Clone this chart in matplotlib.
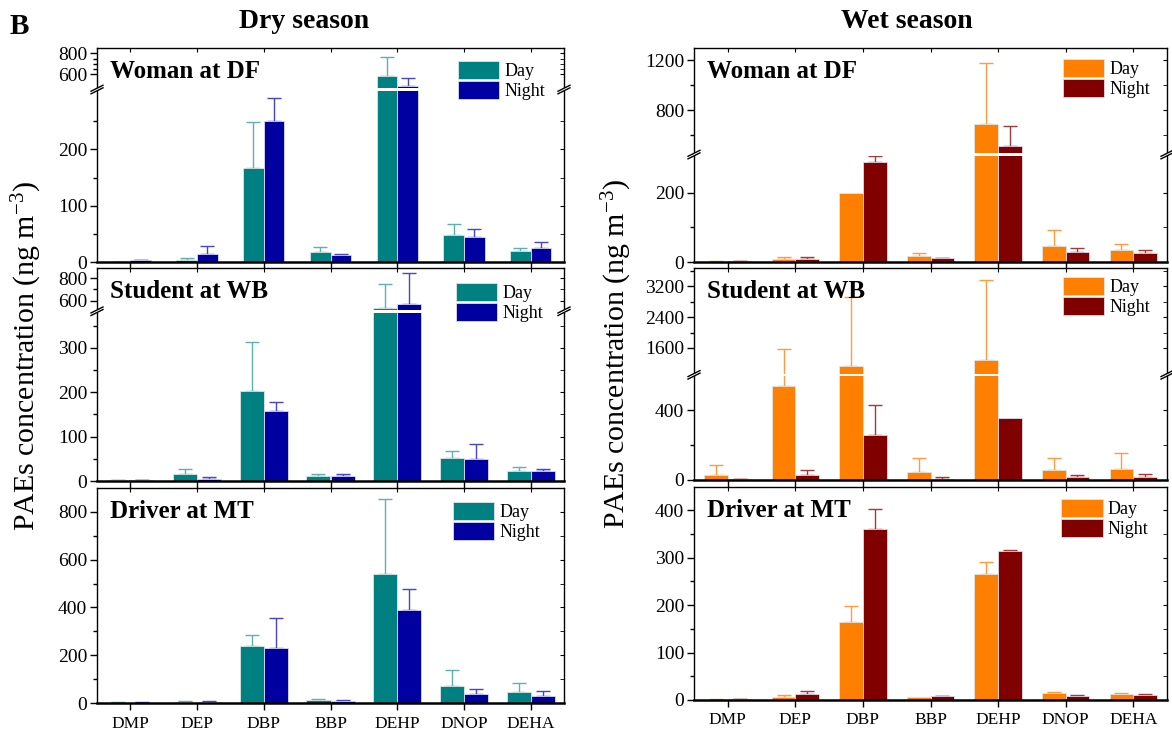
import numpy as np
import matplotlib
matplotlib.use("Agg")
from matplotlib import pyplot as plt
from matplotlib.patches import Rectangle, Patch
from matplotlib.lines import Line2D
from matplotlib.ticker import FixedLocator

plt.rcParams['font.family'] = ['Liberation Serif', 'DejaVu Serif']
plt.rcParams['mathtext.fontset'] = 'custom'
plt.rcParams['mathtext.rm'] = 'Liberation Serif'
plt.rcParams['mathtext.it'] = 'Liberation Serif:italic'

compounds = ["DMP", "DEP", "DBP", "BBP", "DEHP", "DNOP", "DEHA"]

# dry season: mean and (upper) error, ng m-3
dry_df_day = [0.5, 4, 167, 18, 590, 48, 19]
dry_df_day_sd = [0.3, 3, 81, 9, 172, 20, 6]
dry_df_night = [3, 15, 250, 12, 495, 44, 25]
dry_df_night_sd = [1, 13, 42, 3, 75, 14, 10]

dry_wb_day = [2, 15, 202, 11, 542, 53, 23]
dry_wb_day_sd = [0.5, 11, 111, 5, 203, 15, 8]
dry_wb_night = [2, 4.5, 158, 11, 574, 49, 22]
dry_wb_night_sd = [0.5, 3.5, 21, 4, 272, 34, 6]

dry_mt_day = [2, 4, 239, 13, 538, 71, 46]
dry_mt_day_sd = [0.5, 3, 44, 5, 318, 66, 39]
dry_mt_night = [2, 5, 232, 10, 391, 39, 29]
dry_mt_night_sd = [0.5, 3, 125, 4, 88, 21, 20]

# wet season
wet_df_day = [1, 8, 198, 17, 693, 45, 34]
wet_df_day_sd = [0.5, 6, 0, 9, 488, 48, 19]
wet_df_night = [2, 10, 288, 11.5, 517, 29, 27]
wet_df_night_sd = [1, 4, 38, 1, 155, 10, 9]

wet_wb_day = [30, 539, 1140, 48, 1296, 57, 63]
wet_wb_day_sd = [58, 1043, 1797, 76, 2060, 67, 93]
wet_wb_night = [4, 27, 257, 8, 352, 15, 19]
wet_wb_night_sd = [4, 32, 173, 9, 0, 15, 13]

wet_mt_day = [1, 5.6, 165, 6.3, 265, 14.8, 13.4]
wet_mt_day_sd = [0.3, 5, 34, 0, 26, 3, 0.6]
wet_mt_night = [1.5, 12.7, 361, 7.7, 314, 9, 10.5]
wet_mt_night_sd = [0.3, 6, 41, 0.5, 3, 1, 1.5]

W, H = 1172, 733
fig = plt.figure(figsize=(W / 100, H / 100), dpi=100)

GAP = 0.012


def broken_scale(lo_max, hi_min, top, frac):
    xp = np.array([0.0, lo_max, hi_min, top])
    fp = np.array([0.0, frac, frac + GAP, 1.0])
    s_hi = (1 - frac - GAP) / (top - hi_min)

    def fwd(v):
        v = np.asarray(v, float)
        out = np.interp(v, xp, fp)
        out = np.where(v < 0, v / lo_max * frac, out)
        return np.where(v > top, 1 + (v - top) * s_hi, out)

    def inv(u):
        u = np.asarray(u, float)
        out = np.interp(u, fp, xp)
        out = np.where(u < 0, u * lo_max / frac, out)
        return np.where(u > 1, top + (u - 1) / s_hi, out)
    return fwd, inv


def draw_err(ax, xpos, vals, sd, color):
    xpos, vals, sd = np.asarray(xpos), np.asarray(vals, float), np.asarray(sd, float)
    keep = sd > 0
    ax.errorbar(xpos[keep], vals[keep], yerr=[np.zeros(keep.sum()), sd[keep]], fmt='none',
                ecolor=color, elinewidth=1, capsize=5, capthick=1, zorder=1.9)


def panel(box, day, day_sd, night, night_sd, cols, ecols, width, top,
          major, minor, title, brk=None, show_x=False, leg_anchor=(0.775, 0.94)):
    l, t, r, b = box
    ax = fig.add_axes([l / W, 1 - b / H, (r - l) / W, (b - t) / H])
    x = np.arange(len(compounds))
    ax.bar(x - width / 2, day, width, color=cols[0], edgecolor='#dfe6e6', linewidth=0.6, zorder=2)
    ax.bar(x + width / 2, night, width, color=cols[1], edgecolor='#dcdcee', linewidth=0.6, zorder=2)
    draw_err(ax, x - width / 2, day, day_sd, ecols[0])
    draw_err(ax, x + width / 2, night, night_sd, ecols[1])
    ax.set_xlim(-0.5, len(x) - 0.5)
    if brk is not None:
        fwd, inv = broken_scale(*brk)
        ax.set_yscale('function', functions=(fwd, inv))
    ax.set_ylim(0, top)
    ax.yaxis.set_major_locator(FixedLocator(major))
    ax.yaxis.set_minor_locator(FixedLocator(minor))
    ax.set_yticklabels([str(m) for m in major])
    ax.tick_params(axis='y', which='major', direction='out', length=5, width=1, labelsize=14, pad=2)
    ax.tick_params(axis='y', which='minor', direction='out', length=3, width=1)
    ax.set_xticks(x)
    ax.tick_params(axis='x', direction='out', length=5, width=1, labelsize=12.5, pad=4)
    if show_x:
        ax.set_xticklabels(compounds)
    else:
        ax.set_xticklabels([])
    for s in ['left', 'right', 'top']:
        ax.spines[s].set_linewidth(1.0)
    ax.spines['bottom'].set_linewidth(1.8)

    # right and top inner ticks
    tw = ax.twinx()
    if brk is not None:
        tw.set_yscale('function', functions=(fwd, inv))
    tw.set_ylim(0, top)
    tw.yaxis.set_major_locator(FixedLocator(major))
    tw.yaxis.set_minor_locator(FixedLocator(minor))
    tw.tick_params(axis='y', which='both', direction='in', length=3, labelright=False)
    ty = ax.twiny()
    ty.set_xlim(ax.get_xlim())
    ty.set_xticks(x)
    ty.tick_params(axis='x', direction='in', length=3, labeltop=False)
    for a in (tw, ty):
        for s in a.spines.values():
            s.set_visible(False)

    if brk is not None:
        frac = brk[3]
        ax.add_patch(Rectangle((-0.03, frac), 1.06, GAP, transform=ax.transAxes,
                               facecolor='white', edgecolor='none', zorder=5, clip_on=False))
        dx = 6 / (r - l)
        dy = 3 / (b - t)
        for xs in (0, 1):
            for yy in (frac, frac + GAP):
                ax.add_line(Line2D([xs - dx, xs + dx], [yy - dy, yy + dy], transform=ax.transAxes,
                                   color='black', lw=1, zorder=6, clip_on=False))

    ax.text(0.027, 0.89, title, transform=ax.transAxes, fontsize=18, fontweight='bold',
            ha='left', va='center', zorder=7)
    handles = [Patch(facecolor=cols[0], edgecolor='#dfe6e6', linewidth=0.6),
               Patch(facecolor=cols[1], edgecolor='#dcdcee', linewidth=0.6)]
    ax.legend(handles, ['Day', 'Night'], loc='upper left', bbox_to_anchor=leg_anchor,
              frameon=False, fontsize=13, handlelength=2.3, handleheight=1.15,
              labelspacing=0.05, handletextpad=0.3, borderpad=0, borderaxespad=0)
    return ax


dry_cols = ('#008080', '#0000a0')
dry_ecols = ('#5fb0b0', '#4545cc')
wet_cols = ('#ff8000', '#800000')
wet_ecols = ('#ff9a40', '#a33a3a')

LX = (97, 564)
RX = (694, 1167)

panel((LX[0], 48, LX[1], 262), dry_df_day, dry_df_day_sd, dry_df_night, dry_df_night_sd,
      dry_cols, dry_ecols, 0.31, 850, [0, 100, 200, 600, 800], [50, 150, 250, 650, 700, 750],
      'Woman at DF', brk=(304, 470, 850, 0.80), leg_anchor=(0.772, 0.94))
panel((LX[0], 268, LX[1], 481), dry_wb_day, dry_wb_day_sd, dry_wb_night, dry_wb_night_sd,
      dry_cols, dry_ecols, 0.36, 887, [0, 100, 200, 300, 600, 800], [50, 150, 250, 350, 700],
      'Student at WB', brk=(380, 522, 887, 0.791), leg_anchor=(0.768, 0.93))
panel((LX[0], 488, LX[1], 703), dry_mt_day, dry_mt_day_sd, dry_mt_night, dry_mt_night_sd,
      dry_cols, dry_ecols, 0.36, 900, [0, 200, 400, 600, 800], [100, 300, 500, 700],
      'Driver at MT', show_x=True, leg_anchor=(0.762, 0.936))

panel((RX[0], 48, RX[1], 262), wet_df_day, wet_df_day_sd, wet_df_night, wet_df_night_sd,
      wet_cols, wet_ecols, 0.35, 1298, [0, 200, 800, 1200], [100, 600, 1000],
      'Woman at DF', brk=(306, 456, 1298, 0.496), leg_anchor=(0.78, 0.95))
panel((RX[0], 268, RX[1], 480), wet_wb_day, wet_wb_day_sd, wet_wb_night, wet_wb_night_sd,
      wet_cols, wet_ecols, 0.35, 3678, [0, 400, 1600, 2400, 3200], [200, 2000, 2800, 3600],
      'Student at WB', brk=(594, 935, 3678, 0.49), leg_anchor=(0.78, 0.958))
panel((RX[0], 487, RX[1], 700), wet_mt_day, wet_mt_day_sd, wet_mt_night, wet_mt_night_sd,
      wet_cols, wet_ecols, 0.35, 449, [0, 100, 200, 300, 400], [50, 150, 250, 350],
      'Driver at MT', show_x=True, leg_anchor=(0.776, 0.944))

ylab = 'PAEs concentration (ng m$^{\\mathregular{-3}}$)'
fig.text(27 / W, 1 - 356 / H, ylab, rotation=90, ha='center', va='center', fontsize=21.5)
fig.text(617 / W, 1 - 354 / H, ylab, rotation=90, ha='center', va='center', fontsize=21.5)
fig.text(304 / W, 1 - 22 / H, 'Dry season', ha='center', va='center', fontsize=20, fontweight='bold')
fig.text(907 / W, 1 - 22 / H, 'Wet season', ha='center', va='center', fontsize=20, fontweight='bold')
fig.text(19 / W, 1 - 26 / H, 'B', ha='center', va='center', fontsize=21, fontweight='bold')

fig.savefig('out.png', dpi=100)
